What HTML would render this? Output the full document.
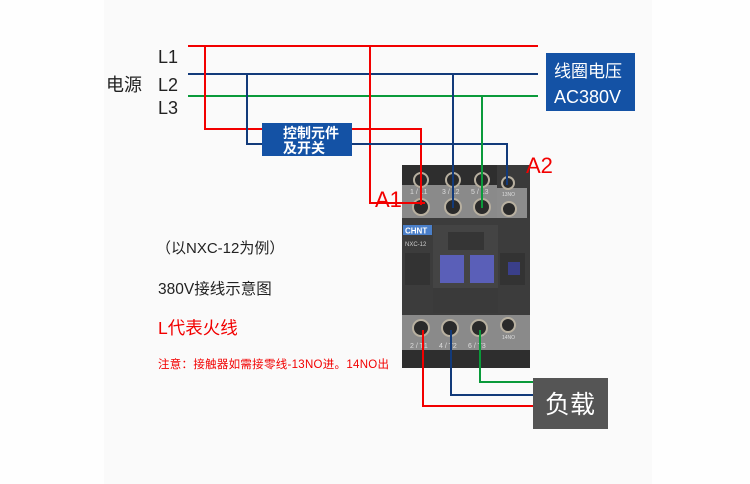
<!DOCTYPE html>
<html><head><meta charset="utf-8"><style>
html,body{margin:0;padding:0;background:#fff;}
svg{display:block}
text{font-family:"Liberation Sans","Noto Sans CJK SC",sans-serif;}
</style></head><body>
<svg width="750" height="484" viewBox="0 0 750 484" xmlns="http://www.w3.org/2000/svg">
<rect x="0" y="0" width="750" height="484" fill="#fefefe"/>
<rect x="104" y="0" width="548" height="484" fill="#fafafa"/>

<text x="158" y="63" font-size="18" fill="#222">L1</text>
<text x="158" y="91" font-size="18" fill="#222">L2</text>
<text x="158" y="114" font-size="18" fill="#222">L3</text>
<text x="106" y="91" font-size="18" fill="#222">电源</text>

<rect x="402" y="165" width="128" height="203" fill="#3a3a3a"/>
<rect x="402" y="165" width="95" height="22" fill="#2e2e2e"/>
<rect x="402" y="185" width="95" height="33" fill="#8a8a8a"/>
<rect x="497" y="188" width="30" height="42" fill="#8c8c8c"/>
<rect x="402" y="218" width="128" height="100" fill="#3c3c3c"/>
<rect x="403" y="225" width="29" height="10" fill="#4a7fc9"/>
<text x="405" y="233.5" font-size="8" font-weight="bold" fill="#fff">CHNT</text>
<text x="405" y="246" font-size="6" fill="#ccc">NXC-12</text>
<rect x="405" y="253" width="25" height="32" fill="#333"/>
<rect x="500" y="253" width="25" height="32" fill="#333"/>
<rect x="508" y="262" width="12" height="13" fill="#3a3f8a"/>
<rect x="433" y="225" width="65" height="88" fill="#444"/>
<rect x="448" y="232" width="36" height="18" fill="#353535"/>
<rect x="440" y="255" width="24" height="28" fill="#5a5fb8"/>
<rect x="470" y="255" width="24" height="28" fill="#5a5fb8"/>
<rect x="433" y="288" width="65" height="25" fill="#3a3a3a"/>
<rect x="402" y="315" width="128" height="35" fill="#8a8a8a"/>
<rect x="402" y="350" width="128" height="18" fill="#2e2e2e"/>
<g fill="#2a2a2a" stroke="#b8b0a0" stroke-width="2">
<circle cx="421" cy="180" r="7"/><circle cx="453" cy="180" r="7"/><circle cx="482" cy="180" r="7"/>
<circle cx="508" cy="183" r="6"/>
<circle cx="421" cy="207" r="8"/><circle cx="453" cy="207" r="8"/><circle cx="482" cy="207" r="8"/>
<circle cx="509" cy="209" r="7"/>
<circle cx="421" cy="328" r="8"/><circle cx="450" cy="328" r="8"/><circle cx="479" cy="328" r="8"/>
<circle cx="508" cy="325" r="7"/>
</g>
<g font-size="7" fill="#ddd">
<text x="410" y="194">1 / L1</text><text x="442" y="194">3 / L2</text><text x="471" y="194">5 / L3</text>
<text x="410" y="348">2 / T1</text><text x="439" y="348">4 / T2</text><text x="468" y="348">6 / T3</text>
<text x="502" y="196" font-size="5">13NO</text><text x="502" y="339" font-size="5">14NO</text>
</g>

<g fill="none" stroke-width="2">
<path d="M188 46H538" stroke="#f20000"/>
<path d="M188 74H538" stroke="#123a7a"/>
<path d="M188 96H538" stroke="#0a9a3a"/>
<path d="M205 47V129H421V205" stroke="#f20000"/>
<path d="M370 47V203H425" stroke="#f20000"/>
<path d="M247 74V144H507V185" stroke="#123a7a"/>
<path d="M453 74V208" stroke="#123a7a"/>
<path d="M482 96V208" stroke="#0a9a3a"/>
<path d="M423 330V406H534" stroke="#f20000"/>
<path d="M451 330V395H534" stroke="#123a7a"/>
<path d="M480 330V382H534" stroke="#0a9a3a"/>
</g>

<rect x="262" y="123" width="90" height="33" fill="#1452a5"/>
<text x="283" y="138" font-size="14" font-weight="bold" fill="#fff">控制元件</text>
<text x="283" y="153" font-size="14" font-weight="bold" fill="#fff">及开关</text>
<rect x="546" y="53" width="89" height="58" fill="#1452a5"/>
<text x="554" y="77" font-size="17" fill="#fff">线圈电压</text>
<text x="554" y="103" font-size="18" fill="#fff">AC380V</text>
<rect x="533" y="378" width="75" height="51" fill="#555"/>
<text x="570" y="413" font-size="25" fill="#fff" text-anchor="middle">负载</text>

<text x="375" y="207" font-size="22" fill="#f20000">A1</text>
<text x="526" y="173" font-size="22" fill="#f20000">A2</text>

<text x="156" y="253" font-size="15" fill="#222">（以NXC-12为例）</text>
<text x="158" y="294" font-size="15.5" fill="#222">380V接线示意图</text>
<text x="158" y="334" font-size="17.5" fill="#f20000">L代表火线</text>
<text x="158" y="368" font-size="11.5" fill="#f20000" textLength="231">注意：接触器如需接零线-13NO进。14NO出</text>
</svg>
</body></html>
